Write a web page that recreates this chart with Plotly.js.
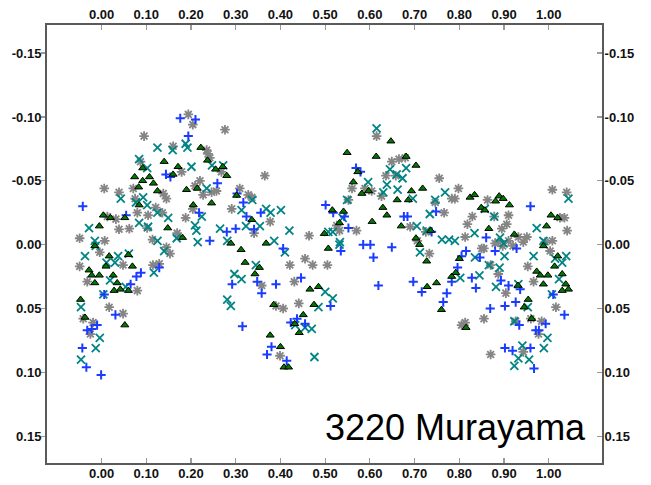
<!DOCTYPE html>
<html>
<head>
<meta charset="utf-8">
<script src="https://cdn.plot.ly/plotly-3.0.1.min.js"></script>
<style>
  html, body { margin: 0; padding: 0; background: #fff; }
  #plot { width: 651px; height: 485px; }
</style>
</head>
<body>
<div id="plot"></div>
<script>
// Lightcurve of asteroid 3220 Murayama: phase vs. reduced magnitude, four sessions.

// Session 1 (blue plus)
const phaseBlue = [0.176,0.210,0.194,0.144,0.154,0.259,-0.042,0.055,0.218,0.303,0.317,0.324,0.356,0.341,0.280,0.300,0.242,0.406,
  0.501,0.518,0.543,0.552,0.569,0.579,0.676,0.684,0.748,0.738,0.959,0.860,0.649,0.585,0.601,
  -0.001,-0.034,-0.043,-0.032,-0.022,-0.010,0.006,0.031,0.065,0.078,0.088,0.129,0.292,0.315,0.348,0.358,0.390,0.370,0.380,0.414,
  0.423,0.437,0.446,0.455,0.512,0.535,0.608,0.619,0.697,0.716,0.772,0.764,0.783,0.796,0.805,0.815,0.846,0.880,0.928,
  0.828,0.837,0.869,0.902,0.926,0.893,0.910,0.936,0.934,0.902,0.919,0.959,0.967,0.971,0.978,0.993,1.035,1.010];
const magBlue = [-0.099,-0.098,-0.085,-0.055,-0.053,-0.048,-0.030,-0.023,-0.025,-0.040,-0.033,-0.022,-0.025,-0.012,-0.010,-0.0125,-0.003,0.003,
  -0.031,-0.025,-0.022,-0.013,-0.060,-0.057,-0.022,-0.022,-0.026,-0.010,-0.030,-0.0055,0.002,0.000,0.000,
  0.102,0.096,0.081,0.067,0.066,0.063,0.039,0.055,0.031,0.025,0.022,0.018,0.031,0.064,0.029,0.038,0.031,0.086,0.080,0.091,
  0.061,0.058,0.026,0.062,0.048,0.005,0.010,0.032,0.029,0.037,0.038,0.045,0.029,0.018,0.009,0.005,0.010,0.005,0.003,
  0.026,0.034,0.050,0.048,0.045,0.028,0.032,0.035,0.063,0.081,0.083,0.081,0.097,0.067,0.067,0.062,0.055,0.039];

// Session 2 (teal cross)
const phaseTeal = [0.125,0.188,0.192,0.159,0.084,0.102,0.201,0.247,0.272,0.043,0.093,0.102,0.077,0.149,0.125,0.084,0.104,-0.028,
  -0.015,0.125,0.168,0.209,0.212,0.235,0.224,0.313,0.337,0.368,0.378,0.401,0.323,0.354,0.265,0.281,0.420,0.386,0.215,0.507,
  0.615,0.645,0.681,0.673,0.660,0.630,0.638,0.662,0.696,0.596,0.549,0.746,0.768,0.734,0.705,0.727,0.761,0.777,0.790,0.533,0.517,0.539,
  1.044,0.857,0.878,0.834,0.973,0.891,0.899,0.988,
  -0.037,0.061,0.037,0.011,0.030,0.019,0.004,0.054,0.117,-0.046,-0.004,-0.013,-0.046,-0.013,0.140,
  0.297,0.313,0.281,0.289,0.345,0.410,0.433,0.455,0.470,0.476,0.500,0.485,0.517,0.532,0.712,0.802,
  0.835,0.866,0.890,0.845,0.882,0.901,0.966,0.932,0.953,0.923,1.007,1.023,1.030,1.014,1.039,0.997,0.989,0.941,0.932,0.956,0.923];
const magTeal = [-0.076,-0.079,-0.076,-0.074,-0.067,-0.060,-0.061,-0.062,-0.062,-0.036,-0.037,-0.031,-0.033,-0.021,-0.025,-0.017,-0.014,-0.013,
  -0.003,-0.003,-0.005,-0.015,-0.011,-0.044,-0.022,-0.027,-0.035,-0.028,-0.025,-0.027,-0.0145,-0.0145,-0.0125,-0.003,-0.011,-0.003,-0.002,-0.010,
  -0.091,-0.059,-0.060,-0.052,-0.055,-0.041,-0.047,-0.043,-0.036,-0.049,-0.035,-0.035,-0.041,-0.024,-0.0145,-0.011,-0.004,-0.004,-0.003,-0.002,-0.010,-0.021,
  -0.036,-0.028,-0.022,-0.009,-0.013,-0.0055,-0.001,-0.003,
  0.009,0.007,0.009,0.014,0.014,0.028,0.039,0.033,0.022,0.049,0.073,0.081,0.090,0.001,0.005,
  0.023,0.027,0.043,0.048,0.016,0.006,0.063,0.065,0.066,0.088,0.037,0.049,0.042,0.000,0.006,0.026,
  0.010,0.016,0.018,0.024,0.033,0.009,0.009,0.031,0.049,0.060,0.039,0.027,0.014,0.011,0.009,0.073,0.081,0.079,0.089,0.090,0.095];

// Session 3 (gray asterisk)
const phaseGray = [0.194,0.204,0.276,0.095,0.160,0.235,0.238,0.242,0.087,0.179,0.268,0.365,0.220,0.209,0.006,0.039,0.071,0.138,0.145,
  0.227,0.246,0.257,0.309,0.328,0.336,0.075,0.080,0.121,0.136,0.104,0.013,0.032,0.188,0.204,0.291,0.377,0.039,0.062,0.102,
  -0.049,0.007,0.114,0.169,0.341,0.464,0.145,
  0.615,0.649,0.665,0.679,0.636,0.658,0.755,0.560,0.589,0.604,0.626,0.552,0.798,0.783,0.790,0.746,0.766,0.570,0.526,0.532,
  0.690,0.725,0.706,0.813,0.818,
  1.008,1.040,0.863,0.829,0.878,0.910,0.906,0.895,1.025,1.035,1.041,0.887,0.910,0.932,0.951,0.943,0.992,1.008,0.855,0.880,
  -0.049,-0.032,-0.004,0.048,0.080,0.017,0.048,-0.019,-0.041,-0.025,0.115,0.129,0.153,
  0.455,0.472,0.505,0.421,0.431,0.358,0.406,0.390,0.441,0.399,
  0.733,0.805,0.813,0.850,0.953,0.887,0.966,0.904,1.016,0.855,0.926,0.960,0.984,0.977,0.943,0.870,1.003,0.870,0.920,0.897];
const magGray = [-0.102,-0.094,-0.090,-0.085,-0.077,-0.074,-0.071,-0.068,-0.065,-0.057,-0.057,-0.054,-0.050,-0.046,-0.044,-0.041,-0.044,-0.040,-0.036,
  -0.039,-0.041,-0.042,-0.044,-0.039,-0.037,-0.036,-0.025,-0.029,-0.025,-0.023,-0.022,-0.020,-0.021,-0.028,-0.028,-0.018,-0.012,-0.0125,-0.013,
  -0.005,-0.003,-0.004,-0.009,-0.009,-0.007,0.002,
  -0.085,-0.065,-0.067,-0.068,-0.054,-0.054,-0.052,-0.044,-0.044,-0.042,-0.038,-0.035,-0.044,-0.036,-0.036,-0.033,-0.025,-0.011,-0.015,-0.011,
  -0.014,-0.010,-0.003,-0.006,-0.016,
  -0.043,-0.041,-0.035,-0.022,-0.022,-0.023,-0.016,-0.0125,-0.021,-0.021,-0.011,-0.002,-0.003,-0.006,-0.006,-0.002,-0.002,-0.003,0.003,-0.001,
  0.017,0.029,0.006,0.016,0.036,0.049,0.054,0.061,0.058,0.070,0.016,0.015,0.007,
  0.011,0.016,0.016,0.016,0.029,0.032,0.050,0.048,0.046,0.087,
  0.007,0.063,0.061,0.003,0.017,0.023,0.029,0.038,0.049,0.058,0.060,0.058,0.060,0.070,0.084,0.086,0.005,0.016,0.001,0.001];

// Session 4 (green triangle)
const phaseGreen = [0.222,0.237,0.140,0.171,0.092,0.074,0.107,0.092,0.116,0.083,0.160,0.125,0.190,0.214,0.084,0.205,0.004,0.020,0.052,
  -0.005,0.148,0.181,0.255,0.271,0.280,0.246,0.302,0.336,0.289,0.368,0.516,0.498,
  0.647,0.549,0.614,0.681,0.703,0.573,0.563,0.582,0.597,0.661,0.686,0.693,0.718,0.629,0.638,0.605,0.541,0.532,0.670,0.703,0.736,
  0.824,0.834,0.889,0.898,0.881,0.912,0.849,0.857,1.005,1.020,0.995,0.866,0.923,
  -0.015,-0.047,-0.037,-0.028,-0.022,-0.015,-0.005,0.010,0.017,0.026,0.035,0.028,0.042,0.060,0.060,0.069,0.052,
  0.312,0.321,0.343,0.353,0.385,0.377,0.400,0.408,0.418,0.432,0.442,0.451,0.466,0.485,0.475,0.507,
  0.711,0.727,0.728,0.749,0.760,0.783,0.792,0.800,0.815,
  0.988,1.020,0.973,0.981,0.998,0.988,1.013,1.030,1.038,1.044,1.030,0.931,0.954,0.945,0.962];
const magGreen = [-0.076,-0.066,-0.065,-0.061,-0.060,-0.053,-0.053,-0.050,-0.048,-0.045,-0.055,-0.042,-0.043,-0.044,-0.031,-0.031,-0.023,-0.021,-0.021,
  -0.0145,-0.013,-0.0055,-0.059,-0.061,-0.054,-0.0325,-0.0385,-0.0195,-0.001,-0.001,-0.027,-0.0086,
  -0.081,-0.072,-0.069,-0.069,-0.062,-0.057,-0.049,-0.040,-0.042,-0.035,-0.035,-0.042,-0.044,-0.029,-0.023,-0.018,-0.026,-0.017,-0.0145,-0.005,-0.011,
  -0.037,-0.039,-0.038,-0.036,-0.034,-0.031,-0.029,-0.027,-0.023,-0.021,-0.0145,-0.0125,-0.008,
  0.001,0.043,0.057,0.020,0.024,0.030,0.024,0.017,0.009,0.024,0.030,0.036,0.035,0.036,0.008,0.017,0.063,
  0.004,0.014,0.023,0.018,0.047,0.071,0.080,0.096,0.096,0.062,0.069,0.055,0.035,0.033,0.047,0.003,
  0.000,0.013,0.033,0.030,0.051,0.025,0.022,0.011,0.065,
  0.001,0.009,0.021,0.024,0.024,0.031,0.017,0.023,0.031,0.035,0.036,0.032,0.043,0.049,0.058];

// Axis ticks
const xTickVals = [0, 0.1, 0.2, 0.3, 0.4, 0.5, 0.6, 0.7, 0.8, 0.9, 1.0];
const xTickText = ['0.00','0.10','0.20','0.30','0.40','0.50','0.60','0.70','0.80','0.90','1.00'];
const yTickVals = [-0.15, -0.10, -0.05, 0, 0.05, 0.10, 0.15];
const yTickText = ['-0.15','-0.10','-0.05','0.00','0.05','0.10','0.15'];
const xRange = [-0.122, 1.119];
const yRange = [0.171, -0.172];

const traces = [
  { x: phaseGray, y: magGray, type: 'scatter', mode: 'markers', name: 'S3',
    marker: { symbol: 'asterisk-open', size: 8, color: '#858585', line: { width: 1.8, color: '#858585' } } },
  { x: phaseTeal, y: magTeal, type: 'scatter', mode: 'markers', name: 'S2',
    marker: { symbol: 'x-thin-open', size: 8, color: '#008484', line: { width: 1.8, color: '#008484' } } },
  { x: phaseBlue, y: magBlue, type: 'scatter', mode: 'markers', name: 'S1',
    marker: { symbol: 'cross-thin-open', size: 6.5, color: '#1a3cff', line: { width: 2, color: '#1a3cff' } } },
  { x: phaseGreen, y: magGreen, type: 'scatter', mode: 'markers', name: 'S4',
    marker: { symbol: 'triangle-up', size: 7, color: '#007800', line: { width: 1, color: '#000000' } } },
  // carries the top and right axes
  { x: [null], y: [null], xaxis: 'x2', yaxis: 'y2', type: 'scatter', mode: 'markers',
    showlegend: false, hoverinfo: 'skip' }
];

const tickFont = { family: 'Liberation Sans, Arial, sans-serif', size: 13, color: '#111111', weight: 'bold' };
const frameColor = '#5a5a5a';

const baseX = {
  range: xRange, tickmode: 'array', tickvals: xTickVals, ticktext: xTickText,
  ticks: 'inside', ticklen: 5, tickwidth: 1.2, tickcolor: '#9a9a9a',
  showline: true, linecolor: frameColor, linewidth: 2, showgrid: false, zeroline: false,
  tickfont: tickFont, fixedrange: true
};
const baseY = {
  range: yRange, tickmode: 'array', tickvals: yTickVals, ticktext: yTickText,
  ticks: 'outside', ticklen: 4, tickwidth: 1.2, tickcolor: '#9a9a9a',
  showline: true, linecolor: frameColor, linewidth: 2, showgrid: false, zeroline: false,
  tickfont: tickFont, fixedrange: true
};

const layout = {
  width: 651, height: 485,
  margin: { l: 47, r: 49, t: 25, b: 22, pad: 0 },
  paper_bgcolor: '#ffffff', plot_bgcolor: '#ffffff',
  showlegend: false,
  xaxis: Object.assign({}, baseX, { side: 'bottom', ticklabelstandoff: -3 }),
  xaxis2: Object.assign({}, baseX, { side: 'top', overlaying: 'x', ticklabelstandoff: -1 }),
  yaxis: Object.assign({}, baseY, { side: 'left', ticklabelstandoff: -3 }),
  yaxis2: Object.assign({}, baseY, { side: 'right', overlaying: 'y', ticks: 'inside', ticklen: 5, ticklabelstandoff: -2 }),
  annotations: [{
    text: '3220 Murayama', xref: 'paper', yref: 'paper', x: 0.975, y: 0.08,
    xanchor: 'right', yanchor: 'middle', showarrow: false,
    font: { family: 'Liberation Sans, Arial, sans-serif', size: 36, color: '#000000' }
  }]
};

Plotly.newPlot('plot', traces, layout, { staticPlot: true, displayModeBar: false });
</script>
</body>
</html>
